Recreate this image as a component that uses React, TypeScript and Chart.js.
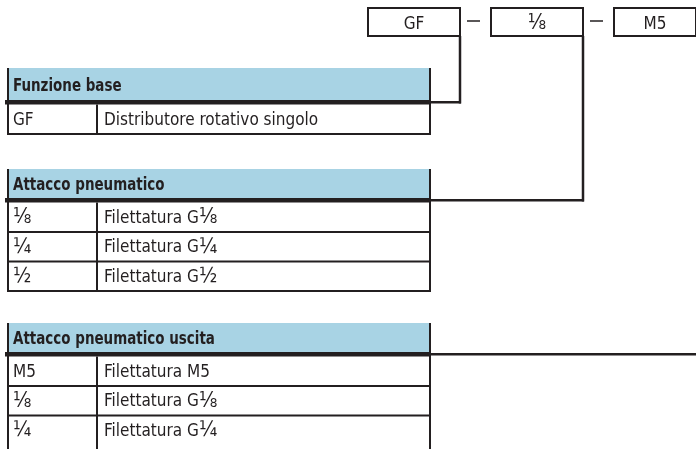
import React, { useEffect, useRef } from "react";
import { Chart, registerables } from "chart.js";

Chart.register(...registerables);

// ---- Data ----
const typeCode = ["GF", "⅛", "M5"];
const sectionTitles = ["Funzione base", "Attacco pneumatico", "Attacco pneumatico uscita"];
const section1Codes = ["GF"];
const section1Labels = ["Distributore rotativo singolo"];
const section2Codes = ["⅛", "¼", "½"];
const section2Labels = ["Filettatura G⅛", "Filettatura G¼", "Filettatura G½"];
const section3Codes = ["M5", "⅛", "¼"];
const section3Labels = ["Filettatura M5", "Filettatura G⅛", "Filettatura G¼"];

// ---- Layout (in scale units = image pixels) ----
const W = 696;
const H = 449;
const boxX = [[368, 460], [491, 583], [614, 696]];
const boxTop = 8;
const boxBottom = 36;
const tableLeft = 8;
const tableDivider = 97;
const tableRight = 430;
const headerTops = [68, 169, 323];
const headerHeights = [32, 29, 29];
const rowHeight = 29.5;
const thick = 4.5;

const FONT = "'Liberation Sans Narrow', 'DejaVu Sans Condensed', sans-serif";
const INK = "#231f20";
const HEAD_BG = "#a8d3e4";
const FRACTIONS = "⅛¼½";

const sections = [
  { codes: section1Codes, labels: section1Labels },
  { codes: section2Codes, labels: section2Labels },
  { codes: section3Codes, labels: section3Labels },
];

function splitRuns(text: string) {
  const runs: { t: string; frac: boolean }[] = [];
  for (const ch of Array.from(text)) {
    const frac = FRACTIONS.includes(ch);
    const last = runs[runs.length - 1];
    if (last && last.frac === frac) last.t += ch;
    else runs.push({ t: ch, frac });
  }
  return runs;
}

function drawRich(ctx: CanvasRenderingContext2D, text: string, x: number, y: number, align: "left" | "center", size: number) {
  const runs = splitRuns(text);
  const fontFor = (frac: boolean) => (frac ? `${Math.round(size * 1.22)}px ${FONT}` : `${size}px ${FONT}`);
  let total = 0;
  const widths = runs.map((r) => {
    ctx.font = fontFor(r.frac);
    const w = ctx.measureText(r.t).width;
    total += w;
    return w;
  });
  let cx = align === "center" ? x - total / 2 : x;
  ctx.textAlign = "left";
  ctx.textBaseline = "alphabetic";
  runs.forEach((r, i) => {
    ctx.font = fontFor(r.frac);
    ctx.fillText(r.t, cx, y + (r.frac ? 0.5 : 0));
    cx += widths[i];
  });
}

const tablePlugin = {
  id: "typecode",
  afterDraw(chart: any) {
    const ctx = chart.ctx as CanvasRenderingContext2D;
    const xs = chart.scales.x;
    const ys = chart.scales.y;
    const X = (v: number) => xs.getPixelForValue(v);
    const Y = (v: number) => ys.getPixelForValue(v);
    ctx.save();
    ctx.fillStyle = "#ffffff";
    ctx.fillRect(0, 0, chart.width, chart.height);

    const line = (x1: number, y1: number, x2: number, y2: number, w: number) => {
      ctx.beginPath();
      ctx.lineWidth = w;
      ctx.strokeStyle = INK;
      ctx.moveTo(X(x1), Y(y1));
      ctx.lineTo(X(x2), Y(y2));
      ctx.stroke();
    };

    // type code boxes
    ctx.fillStyle = INK;
    typeCode.forEach((code, i) => {
      const [l, r] = boxX[i];
      ctx.lineWidth = 2;
      ctx.strokeStyle = INK;
      ctx.strokeRect(X(l), Y(boxTop), X(r) - X(l), Y(boxBottom) - Y(boxTop));
      ctx.fillStyle = INK;
      drawRich(ctx, code, (X(l) + X(r)) / 2, (Y(boxTop) + Y(boxBottom)) / 2 + 6.5, "center", 17);
      if (i < typeCode.length - 1) {
        const nl = boxX[i + 1][0];
        line(r + 7, 21, nl - 11, 21, 1.5);
      }
    });

    // tables
    sections.forEach((sec, si) => {
      const top = headerTops[si];
      const hb = top + headerHeights[si];
      // header background
      ctx.fillStyle = HEAD_BG;
      ctx.fillRect(X(tableLeft), Y(top), X(tableRight) - X(tableLeft), Y(hb) - Y(top));
      // header title (condensed bold)
      ctx.fillStyle = INK;
      ctx.font = `bold 17px ${FONT}`;
      ctx.textAlign = "left";
      ctx.textBaseline = "alphabetic";
      ctx.save();
      ctx.translate(X(tableLeft + 5), (Y(top) + Y(hb)) / 2 + 6.5);
      ctx.scale(0.88, 1);
      ctx.fillText(sectionTitles[si], 0, 0);
      ctx.restore();
      const rowsTop = hb + thick;
      const n = sec.codes.length;
      const lastBottom = si === 2 ? H : rowsTop + n * rowHeight;
      // rows
      sec.codes.forEach((c, ri) => {
        const rt = rowsTop + ri * rowHeight;
        const rb = rt + rowHeight;
        const by = (Y(rt) + Y(rb)) / 2 + 5.5;
        ctx.fillStyle = INK;
        drawRich(ctx, c, X(tableLeft + 5), by, "left", 17);
        drawRich(ctx, sec.labels[ri], X(tableDivider + 7), by, "left", 17);
        if (!(si === 2 && ri === n - 1)) line(tableLeft - 1, rb, tableRight + 1, rb, 2);
      });
      // verticals
      line(tableLeft, top, tableLeft, lastBottom, 2);
      line(tableRight, top, tableRight, lastBottom, 2);
      line(tableDivider, rowsTop, tableDivider, lastBottom, 2);
      // thick header rule
      const ty = hb + thick / 2;
      line(tableLeft - 3, ty, tableRight + 1, ty, thick);
      // connector
      const cx = boxX[si][1];
      if (si < 2) {
        line(tableRight, ty, cx + 1, ty, 2.5);
        line(cx, ty + 1.25, cx, boxBottom, 2.5);
      } else {
        line(tableRight, ty, W, ty, 2.5);
      }
    });
    ctx.restore();
  },
};

export default function App() {
  const ref = useRef<HTMLCanvasElement | null>(null);
  useEffect(() => {
    document.body.style.margin = "0";
    const chart = new Chart(ref.current as HTMLCanvasElement, {
      type: "scatter",
      data: { datasets: [{ data: [], showLine: false }] },
      options: {
        animation: false,
        responsive: false,
        devicePixelRatio: 1,
        layout: { padding: 0 },
        plugins: { legend: { display: false }, tooltip: { enabled: false } },
        scales: {
          x: { type: "linear", min: 0, max: W, display: false },
          y: { type: "linear", min: 0, max: H, reverse: true, display: false },
        },
      },
      plugins: [tablePlugin],
    });
    return () => chart.destroy();
  }, []);
  return (
    <div style={{ position: "absolute", left: 0, top: 0, width: W, height: H }}>
      <canvas ref={ref} width={W} height={H} style={{ width: W, height: H }} />
    </div>
  );
}
